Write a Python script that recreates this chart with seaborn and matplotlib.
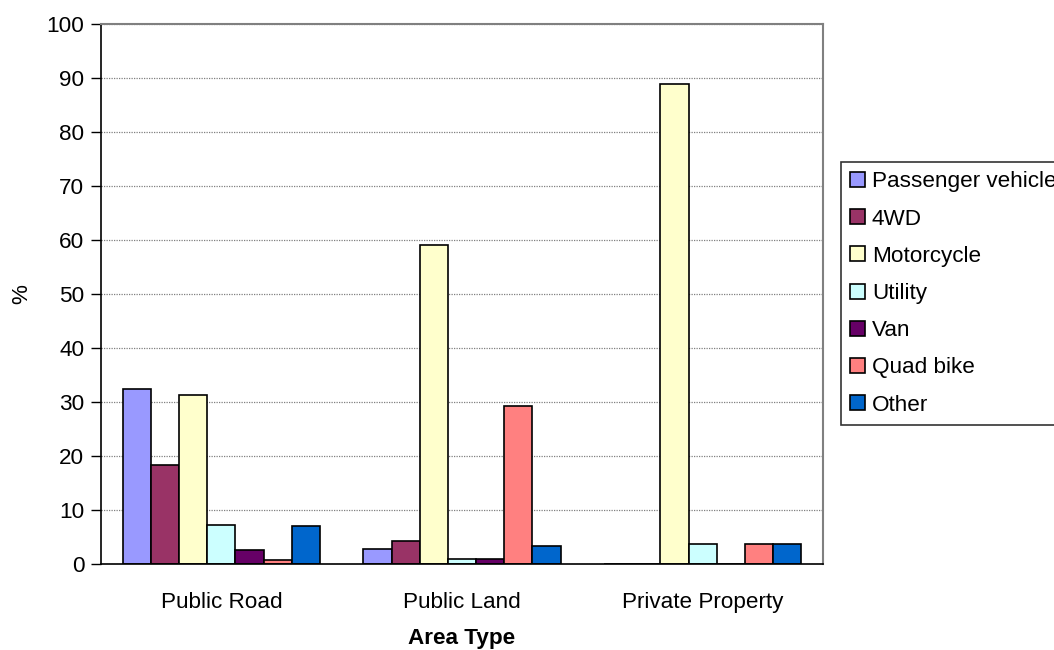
import matplotlib
matplotlib.use("Agg")
import matplotlib.pyplot as plt
import seaborn as sns
import pandas as pd
import numpy as np
from matplotlib.patches import Patch

areas = ["Public Road", "Public Land", "Private Property"]
vehicles = ["Passenger vehicle", "4WD", "Motorcycle", "Utility", "Van", "Quad bike", "Other"]
colors = ["#9999FF", "#993366", "#FFFFCC", "#CCFFFF", "#660066", "#FF8080", "#0066CC"]

passenger = [32.5, 2.7, 0.0]
fourwd = [18.3, 4.3, 0.0]
motorcycle = [31.3, 59.1, 88.9]
utility = [7.3, 0.9, 3.7]
van = [2.6, 1.0, 0.0]
quad = [0.7, 29.3, 3.7]
other = [7.1, 3.4, 3.7]

series = [passenger, fourwd, motorcycle, utility, van, quad, other]
rows = []
for v, vals in zip(vehicles, series):
    for a, val in zip(areas, vals):
        rows.append({"Area Type": a, "Vehicle": v, "pct": val})
df = pd.DataFrame(rows)

sns.set_style("white")
plt.rcParams['font.family'] = ['Liberation Sans', 'DejaVu Sans']
plt.rcParams.update({"text.color": "black", "axes.labelcolor": "black",
                     "xtick.color": "black", "ytick.color": "black"})

fig = plt.figure(figsize=(10.54, 6.5), dpi=100)
ax = fig.add_axes([101/1054, 1-564/650, (823-101)/1054, (564-24)/650])

sns.barplot(data=df, x="Area Type", y="pct", hue="Vehicle", order=areas,
            hue_order=vehicles, palette=colors, width=0.82, edgecolor="black",
            linewidth=1.2, ax=ax, legend=False, saturation=1)

fs = 16.2
ax.set_ylim(0, 100)
ax.set_xlim(-0.5, 2.5)
ax.set_yticks(np.arange(0, 101, 10))
ax.yaxis.grid(True, color="#808080", linestyle=(0, (1, 1)), linewidth=0.9)
ax.set_axisbelow(True)

ax.set_xticks([0, 1, 2])
ax.set_xticklabels(areas, fontsize=fs)
ax.set_xticks([-0.5, 0.5, 1.5, 2.5], minor=True)
ax.tick_params(axis="x", which="major", length=0, pad=20)
ax.tick_params(axis="x", which="minor", length=7, width=1, direction="out", color="black")
ax.tick_params(axis="y", length=7, width=1, direction="out", labelsize=fs, color="black", left=True, pad=5)

for s in ["left", "bottom"]:
    ax.spines[s].set_color("black")
    ax.spines[s].set_linewidth(1.2)
for s in ["top", "right"]:
    ax.spines[s].set_color("#808080")
    ax.spines[s].set_linewidth(1.5)

ax.set_ylabel("%", fontsize=fs, labelpad=10)
ax.set_xlabel("Area Type", fontsize=fs, fontweight="bold", labelpad=11)

handles = [Patch(facecolor=c, edgecolor="black", linewidth=1.2) for c in colors]
leg = fig.legend(handles, vehicles, loc="upper left", bbox_to_anchor=(841/1054, 1-162/650),
                 fontsize=fs, frameon=True, fancybox=False, edgecolor="black",
                 handlelength=0.65, handleheight=0.65, handletextpad=0.3,
                 labelspacing=0.72, borderpad=0.42, borderaxespad=0)
leg.get_frame().set_linewidth(1.2)

fig.savefig("out.png", dpi=100)
